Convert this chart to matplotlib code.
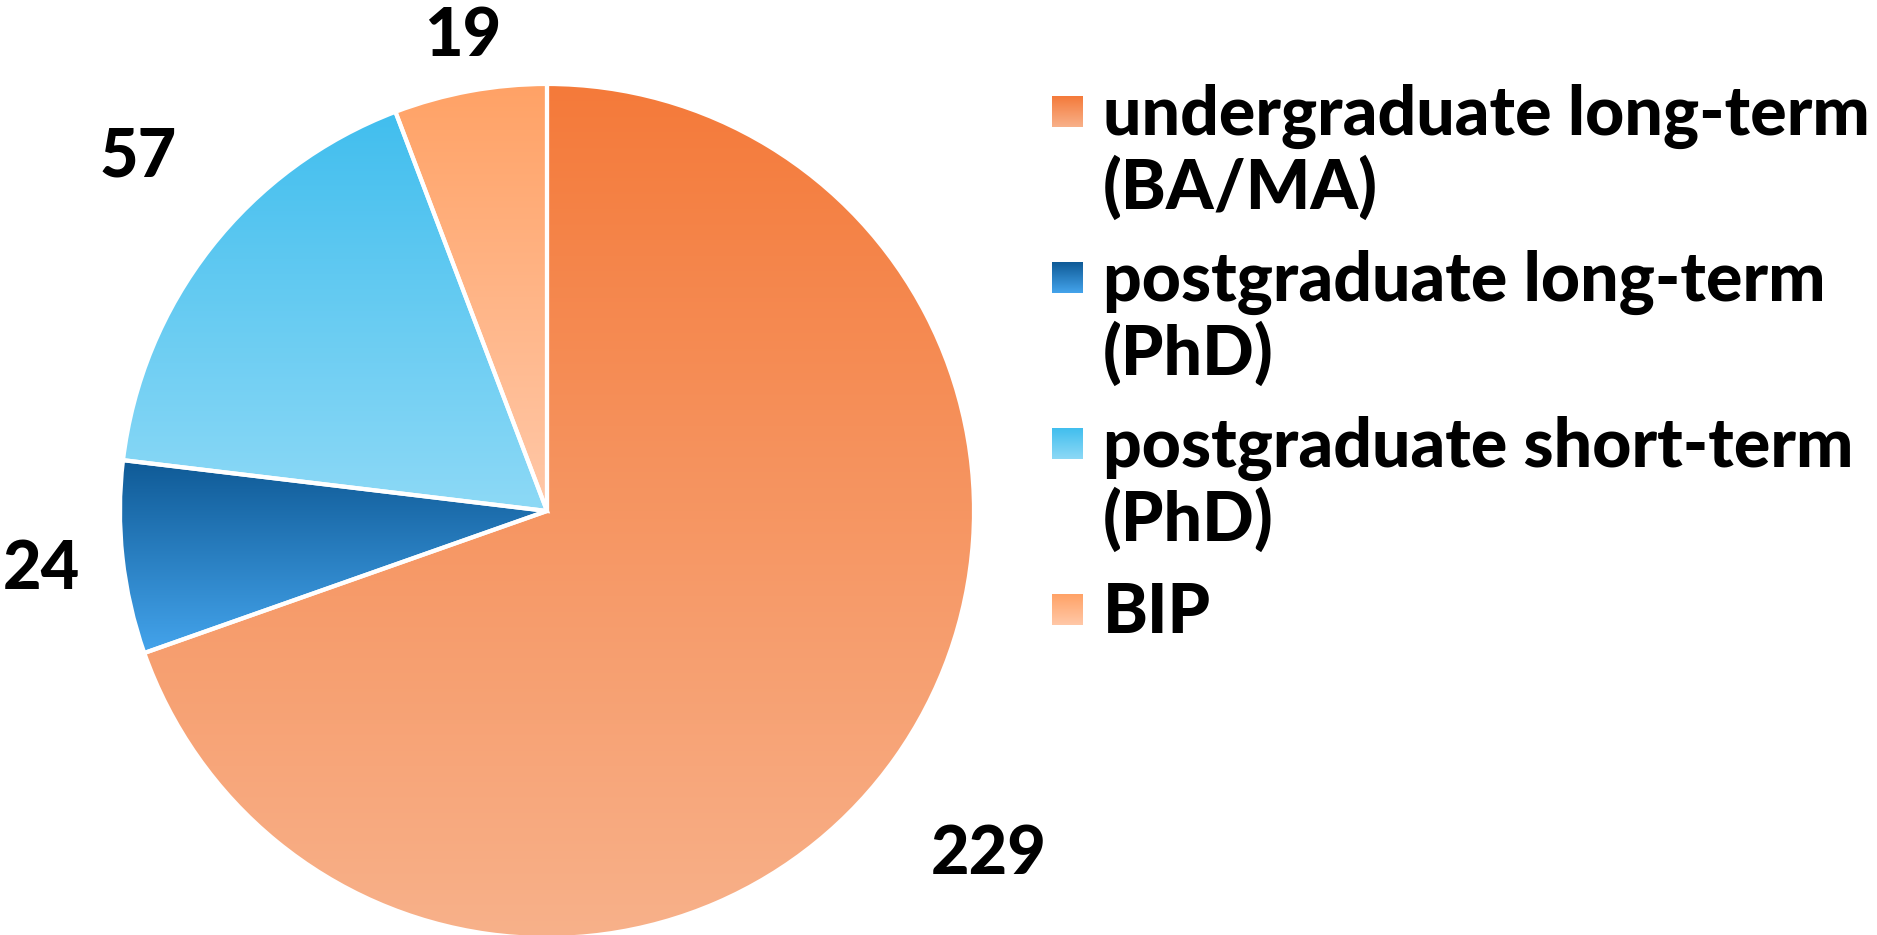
import matplotlib
matplotlib.use("Agg")
import matplotlib.pyplot as plt
import matplotlib.colors as mcolors
from matplotlib import font_manager as fm
import numpy as np

# data
categories = ["undergraduate long-term\n(BA/MA)",
              "postgraduate long-term\n(PhD)",
              "postgraduate short-term\n(PhD)",
              "BIP"]
values = [229, 24, 57, 19]
# vertical gradient per slice: (top colour, bottom colour)
gradients = [("#F47A3A", "#F8B18A"),
             ("#0F5A96", "#44A4EC"),
             ("#41BEEE", "#8DD9F6"),
             ("#FFA266", "#FFC8A8")]

# pick the heaviest Lato file explicitly
heavy = [f for f in fm.fontManager.ttflist
         if f.name == 'Lato' and f.style == 'normal' and f.weight == 900]
if heavy:
    FONT = fm.FontProperties(fname=heavy[0].fname)
else:
    FONT = fm.FontProperties(family='Lato', weight='bold')

W, H = 1877, 935
fig = plt.figure(figsize=(W / 100, H / 100), dpi=100)


def gradient_img(top, bottom, n=256):
    c0 = np.array(mcolors.to_rgba(top))
    c1 = np.array(mcolors.to_rgba(bottom))
    t = np.linspace(0, 1, n)[:, None]
    return (c0 + (c1 - c0) * t)[:, None, :]


# pie axes: centre (547, 511) px, radius 427 px
cx, cy, r = 547, 511, 427
ax = fig.add_axes([(cx - r) / W, (H - cy - r) / H, 2 * r / W, 2 * r / H])
wedges, _ = ax.pie(values, startangle=90, counterclock=False, radius=1,
                   wedgeprops=dict(edgecolor='white', linewidth=3, facecolor='none'))
ax.set_xlim(-1, 1)
ax.set_ylim(-1, 1)
ax.set_aspect('equal')
ax.axis('off')

# highest baseline allowed for a label, so it stays inside the figure
label_top_limit = (cy - 56) / r

for w, (top, bottom), v in zip(wedges, gradients, values):
    w.set_zorder(3)
    w.set_clip_on(False)
    ext = w.get_path().get_extents()
    im = ax.imshow(gradient_img(top, bottom), extent=[ext.x0, ext.x1, ext.y0, ext.y1],
                   origin='upper', aspect='auto', zorder=2, interpolation='bilinear')
    im.set_clip_path(w)

    # data label outside the slice
    mid = np.deg2rad((w.theta1 + w.theta2) / 2)
    dx, dy = np.cos(mid), np.sin(mid)
    ha = 'left' if dx > 0.3 else ('right' if dx < -0.3 else 'center')
    va = 'baseline' if dy > 0.3 else ('top' if dy < -0.3 else 'center')
    lx = 1.1 * dx
    ly = min(1.27 * dy, label_top_limit)
    ax.text(lx, ly, str(v), ha=ha, va=va, fontproperties=FONT, fontsize=48,
            color='black', clip_on=False, zorder=5)

# legend drawn in pixel coordinates
lax = fig.add_axes([0, 0, 1, 1])
lax.axis('off')

sw_x, sw_size, text_x = 1052, 31, 1103
baseline = 135
line_h, gap = 74, 18
for label, (top, bottom) in zip(categories, gradients):
    lines = label.split("\n")
    sy = baseline - 39
    lax.imshow(gradient_img(top, bottom), extent=[sw_x, sw_x + sw_size, sy + sw_size, sy],
               origin='upper', aspect='auto', interpolation='bilinear')
    for k, line in enumerate(lines):
        lax.text(text_x, baseline + k * line_h, line, ha='left', va='baseline',
                 fontproperties=FONT, fontsize=49, color='black')
    baseline += len(lines) * line_h + gap

lax.set_xlim(0, W)
lax.set_ylim(H, 0)

fig.savefig("out.png", dpi=100, facecolor='white')
